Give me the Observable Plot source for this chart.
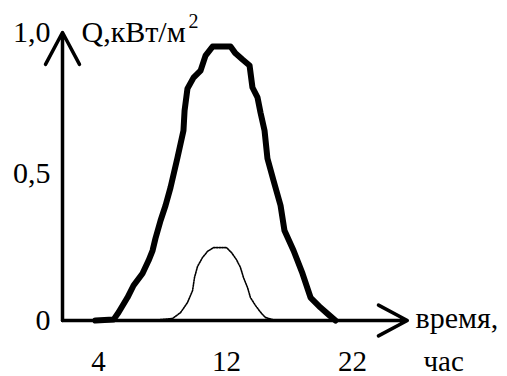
<!DOCTYPE html>
<html>
<head>
<meta charset="utf-8">
<script src="https://cdn.jsdelivr.net/npm/d3@7"></script>
<script src="https://cdn.jsdelivr.net/npm/@observablehq/plot@0.6"></script>
<style>
  html, body { margin: 0; padding: 0; background: #fff; }
  #chart svg {
    font-family: "Liberation Serif", "Times New Roman", Times, serif !important;
    font-size: 30px !important;
    background: #fff;
    overflow: visible;
  }
</style>
</head>
<body>
<div id="chart"></div>
<script>
// Tick values and their printed labels (decimal comma)
const xTicks = [4, 12, 22];
const yTicks = [0, 0.5, 1];
const yTickLabels = ["0", "0,5", "1,0"];

// Axis titles
const yTitle = "Q,кВт/м";
const yTitleSup = "2";
const xTitle = "время,";
const xUnit = "час";

// Thick curve: hour of day and flux density Q, kW/m²
const thickHour = [3.81, 4.94, 5.25, 5.81, 6.19, 6.75, 7.13, 7.38, 7.56, 7.88, 8.19, 8.5, 8.94, 9.31, 9.38, 9.56, 9.94, 10.38, 10.69, 11.13,
                   12.32, 12.71, 13.27, 13.83, 14.06, 14.46, 14.70, 15.02, 15.25, 15.73, 16.29, 16.60, 17.32, 18.03, 18.67, 19.46, 20.10, 20.65];
const thickQ    = [0.0, 0.003, 0.027, 0.078, 0.119, 0.160, 0.204, 0.238, 0.279, 0.340, 0.391, 0.452, 0.557, 0.652, 0.723, 0.801, 0.840, 0.865, 0.918, 0.950,
                   0.950, 0.926, 0.904, 0.883, 0.805, 0.770, 0.716, 0.652, 0.553, 0.476, 0.391, 0.306, 0.238, 0.160, 0.078, 0.044, 0.020, 0.0];

// Dotted curve
const dotHour = [7.88, 8.63, 9.13, 9.56, 9.88, 10.0, 10.19, 10.5, 10.81, 11.19, 12.0, 12.40, 12.79, 13.11, 13.35, 13.67, 13.90, 14.30, 14.78, 15.10, 15.65];
const dotQ    = [0.003, 0.007, 0.027, 0.061, 0.102, 0.146, 0.184, 0.214, 0.235, 0.248, 0.248, 0.231, 0.207, 0.180, 0.146, 0.112, 0.078, 0.051, 0.024, 0.010, 0.003];

const thick = thickHour.map((h, i) => ({hour: h, q: thickQ[i]}));
const dotted = dotHour.map((h, i) => ({hour: h, q: dotQ[i]}));

// Hand-drawn axes: both start a little left of the 4 h mark and end in open arrowheads
const axisHourStart = 1.75;
const axisHourEnd = 26.35;
const xAxisLine = [{x1: axisHourStart, y1: 0, x2: axisHourEnd, y2: 0}];
const yAxisLine = [{x1: axisHourStart, y1: 0, x2: axisHourStart, y2: 1}];

const serif = '"Liberation Serif", "Times New Roman", Times, serif';

const chart = Plot.plot({
  width: 507,
  height: 376,
  marginLeft: 62,
  marginBottom: 56,
  marginTop: 0,
  marginRight: 0,
  x: {type: "linear", domain: xTicks, range: [98, 226, 352], label: null},
  y: {type: "linear", domain: yTicks, range: [320, 173, 32], label: null},
  marks: [
    Plot.arrow(xAxisLine, {x1: "x1", y1: "y1", x2: "x2", y2: "y2", stroke: "#000", strokeWidth: 3.5, headLength: 14, headAngle: 56}),
    Plot.arrow(yAxisLine, {x1: "x1", y1: "y1", x2: "x2", y2: "y2", stroke: "#000", strokeWidth: 3.5, headLength: 15.5, headAngle: 56}),
    Plot.axisX(xTicks, {tickSize: 0, tickPadding: 30, tickFormat: d => String(d), label: null, fontFamily: serif, fontSize: 29}),
    Plot.axisY(yTicks, {tickSize: 0, tickPadding: 12, tickFormat: d => yTickLabels[yTicks.indexOf(d)], label: null, fontFamily: serif, fontSize: 30}),
    Plot.line(dotted, {x: "hour", y: "q", stroke: "#000", strokeWidth: 1.6, strokeDasharray: "1.6 1.1"}),
    Plot.line(thick, {x: "hour", y: "q", stroke: "#000", strokeWidth: 6, strokeLinejoin: "round", strokeLinecap: "round"}),
    Plot.text([yTitle], {text: d => d, frameAnchor: "top-left", dx: 19, dy: 32, textAnchor: "start", lineAnchor: "middle", fontFamily: serif, fontSize: 30}),
    Plot.text([yTitleSup], {text: d => d, frameAnchor: "top-left", dx: 126, dy: 21, textAnchor: "start", lineAnchor: "middle", fontFamily: serif, fontSize: 20}),
    Plot.text([xTitle], {text: d => d, frameAnchor: "bottom-left", dx: 353, dy: -2, textAnchor: "start", lineAnchor: "middle", fontFamily: serif, fontSize: 30}),
    Plot.text([xUnit], {text: d => d, frameAnchor: "bottom-left", dx: 361, dy: 30, textAnchor: "start", lineAnchor: "top", fontFamily: serif, fontSize: 29})
  ]
});

document.getElementById("chart").appendChild(chart);
</script>
</body>
</html>
